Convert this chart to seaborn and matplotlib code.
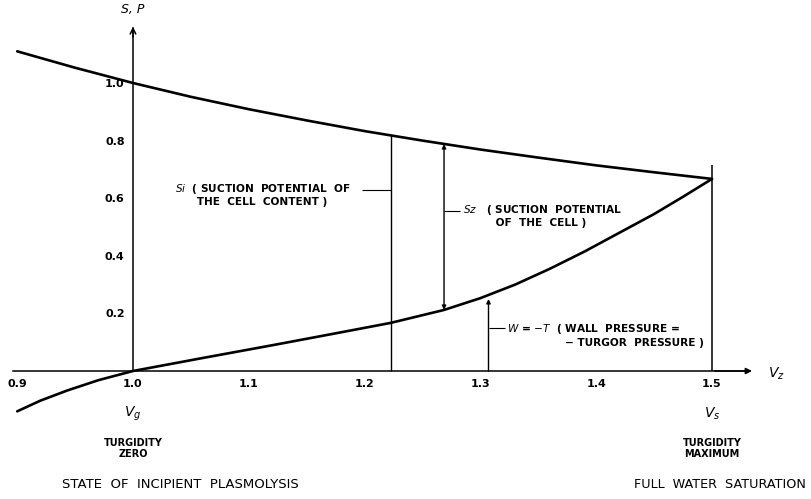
import matplotlib
matplotlib.use("Agg")
import matplotlib.pyplot as plt
import seaborn as sns
import pandas as pd

# Cell volume (relative) and suction potential of the cell content, Si
v_content = [0.90, 0.95, 1.00, 1.05, 1.10, 1.15, 1.20, 1.25, 1.30, 1.35, 1.40, 1.45, 1.50]
s_content = [1.11, 1.053, 1.00, 0.952, 0.909, 0.870, 0.833, 0.800, 0.769, 0.741, 0.714, 0.690, 0.667]

# Wall pressure W = -T against cell volume
v_wall = [0.90, 0.92, 0.943, 0.97, 1.00, 1.06, 1.121, 1.17, 1.2225, 1.2686, 1.30,
          1.33, 1.36, 1.39, 1.42, 1.45, 1.475, 1.50]
s_wall = [-0.14, -0.103, -0.068, -0.032, 0.00, 0.045, 0.090, 0.127, 0.167, 0.212, 0.253,
          0.300, 0.355, 0.415, 0.480, 0.545, 0.605, 0.667]

x_ticks = [0.9, 1.0, 1.1, 1.2, 1.3, 1.4, 1.5]
x_tick_labels = ["0.9", "1.0", "1.1", "1.2", "1.3", "1.4", "1.5"]
y_ticks = [0.2, 0.4, 0.6, 0.8, 1.0]
y_tick_labels = ["0.2", "0.4", "0.6", "0.8", "1.0"]

# Volumes where the three quantities are marked
v_si = 1.2225
v_sz = 1.2686
v_w = 1.307
v_g = 1.0
v_s = 1.5

sns.set_theme(style="white")
plt.rcParams["font.family"] = ["DejaVu Sans"]
plt.rcParams["text.color"] = "black"
plt.rcParams["xtick.color"] = "black"
plt.rcParams["ytick.color"] = "black"

fig = plt.figure(figsize=(8.12, 4.99), dpi=100)
ax = fig.add_axes([0, 0, 1, 1])
ax.set_xlim(0.88515, 1.58636)
ax.set_ylim(-0.44444, 1.28819)

df_c = pd.DataFrame({"V": v_content, "S": s_content})
df_w = pd.DataFrame({"V": v_wall, "S": s_wall})
sns.lineplot(data=df_c, x="V", y="S", ax=ax, color="black", lw=1.9, sort=False)
sns.lineplot(data=df_w, x="V", y="S", ax=ax, color="black", lw=1.9, sort=False)

# Axes drawn through the origin of the diagram
for side in ["top", "right"]:
    ax.spines[side].set_visible(False)
ax.spines["left"].set_position(("data", 1.0))
ax.spines["bottom"].set_position(("data", 0.0))
ax.spines["left"].set_bounds(0.0, 1.19)
ax.spines["bottom"].set_bounds(0.896, 1.53)
for side in ["left", "bottom"]:
    ax.spines[side].set_color("black")
    ax.spines[side].set_linewidth(1.1)
ax.set_xticks(x_ticks)
ax.set_xticklabels(x_tick_labels)
ax.set_yticks(y_ticks)
ax.set_yticklabels(y_tick_labels)
ax.tick_params(direction="in", length=8, width=1.0, colors="black",
               labelsize=8, pad=6)
for lab in ax.get_xticklabels() + ax.get_yticklabels():
    lab.set_fontweight("bold")
    lab.set_color("black")
ax.set_xlabel("")
ax.set_ylabel("")
ax.grid(False)

# Axis arrows
ax.annotate("", xy=(1.0, 1.205), xytext=(1.0, 1.15),
            arrowprops=dict(arrowstyle="->", color="black", lw=1.1,
                            mutation_scale=10))
ax.annotate("", xy=(1.537, 0.0), xytext=(1.50, 0.0),
            arrowprops=dict(arrowstyle="-|>", color="black", lw=1.1,
                            mutation_scale=9))
ax.text(1.0, 1.255, "S, P", ha="center", va="center", fontsize=9, style="italic")
ax.text(1.556, -0.01, r"$V_z$", ha="center", va="center", fontsize=10)

# Marker lines
ax.vlines(v_si, 0.0, 0.818, color="black", lw=1.0)
ax.annotate("", xy=(v_sz, 0.788), xytext=(v_sz, 0.212),
            arrowprops=dict(arrowstyle="<|-|>", color="black", lw=1.0,
                            mutation_scale=6, shrinkA=0, shrinkB=0))
ax.annotate("", xy=(v_w, 0.25), xytext=(v_w, 0.0),
            arrowprops=dict(arrowstyle="-|>", color="black", lw=1.0,
                            mutation_scale=6, shrinkA=0, shrinkB=0))
ax.vlines(v_s, 0.0, 0.715, color="black", lw=1.1)

# Leaders and explanatory labels
lab_kw = dict(fontsize=7.6, fontweight="bold", ha="left", va="center",
              linespacing=1.15, color="black")
ax.hlines(0.627, 1.198, v_si, color="black", lw=0.8)
ax.text(1.036, 0.612, "$Si$  ( SUCTION  POTENTIAL  OF\n      THE  CELL  CONTENT )", **lab_kw)
ax.hlines(0.557, v_sz, v_sz + 0.014, color="black", lw=0.8)
ax.text(1.285, 0.54, "$Sz$   ( SUCTION  POTENTIAL\n         OF  THE  CELL )", **lab_kw)
ax.hlines(0.149, v_w, v_w + 0.014, color="black", lw=0.8)
ax.text(1.323, 0.125, "$W$ = $-T$  ( WALL  PRESSURE =\n                − TURGOR  PRESSURE )", **lab_kw)

# Labels under the two limiting states
ax.text(v_g, -0.15, r"$V_g$", ha="center", va="center", fontsize=10)
ax.text(v_s, -0.15, r"$V_s$", ha="center", va="center", fontsize=10)
ax.text(v_g, -0.27, "TURGIDITY\nZERO", ha="center", va="center", fontsize=7,
        fontweight="bold", linespacing=1.1)
ax.text(v_s, -0.27, "TURGIDITY\nMAXIMUM", ha="center", va="center", fontsize=7,
        fontweight="bold", linespacing=1.1)
ax.text(1.041, -0.395, "STATE  OF  INCIPIENT  PLASMOLYSIS", ha="center", va="center",
        fontsize=9.5)
ax.text(1.5812, -0.395, "FULL  WATER  SATURATION", ha="right", va="center",
        fontsize=9.2)

fig.savefig("out.png", dpi=100, facecolor="white")
